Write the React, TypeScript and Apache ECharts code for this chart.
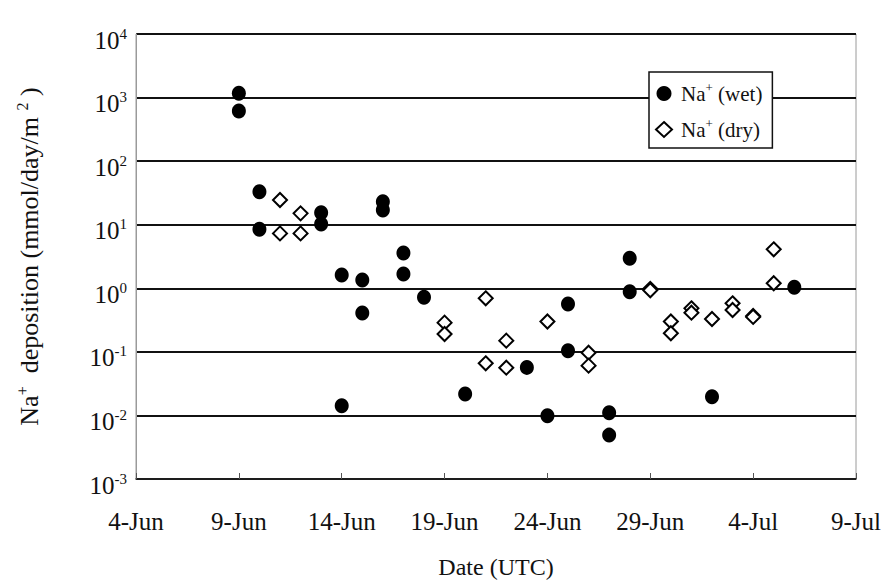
import React, { useEffect, useRef } from "react";
import * as echarts from "echarts";

// Sampling dates and Na+ deposition (mmol/day/m2)
const wetDates = [
  "9-Jun", "9-Jun", "10-Jun", "10-Jun", "13-Jun", "13-Jun", "14-Jun", "14-Jun",
  "15-Jun", "15-Jun", "16-Jun", "16-Jun", "17-Jun", "17-Jun", "18-Jun", "20-Jun",
  "23-Jun", "24-Jun", "25-Jun", "25-Jun", "27-Jun", "27-Jun", "28-Jun", "28-Jun",
  "2-Jul", "6-Jul",
];
const wetValues = [
  1170, 615, 33, 8.5, 15.4, 10.3, 1.62, 0.0142,
  1.35, 0.41, 23, 17, 3.6, 1.68, 0.72, 0.0217,
  0.057, 0.0099, 0.567, 0.104, 0.011, 0.0049, 2.96, 0.885,
  0.0197, 1.04,
];

const dryDates = [
  "11-Jun", "11-Jun", "12-Jun", "12-Jun", "19-Jun", "19-Jun", "21-Jun", "21-Jun",
  "22-Jun", "22-Jun", "24-Jun", "26-Jun", "26-Jun", "29-Jun", "29-Jun", "30-Jun",
  "30-Jun", "1-Jul", "1-Jul", "2-Jul", "3-Jul", "3-Jul", "4-Jul", "4-Jul",
  "5-Jul", "5-Jul",
];
const dryValues = [
  24.5, 7.3, 15.1, 7.3, 0.288, 0.191, 0.695, 0.066,
  0.15, 0.0564, 0.3, 0.097, 0.0607, 0.98, 0.93, 0.3,
  0.196, 0.484, 0.413, 0.329, 0.58, 0.455, 0.366, 0.355,
  4.1, 1.2,
];

const xTickLabels = ["4-Jun", "9-Jun", "14-Jun", "19-Jun", "24-Jun", "29-Jun", "4-Jul", "9-Jul"];

const FONT = "Liberation Serif";

// days counted from 4 June
function dayIndex(label: string): number {
  const [d, m] = label.split("-");
  const day = parseInt(d, 10);
  return (m === "Jul" ? 30 + day : day) - 4;
}

export default function App() {
  const ref = useRef<HTMLDivElement>(null);

  useEffect(() => {
    if (!ref.current) return;
    const chart = echarts.init(ref.current, null, { renderer: "svg" });

    const wetData = wetDates.map((d, i) => [dayIndex(d), wetValues[i]]);
    const dryData = dryDates.map((d, i) => [dayIndex(d), dryValues[i]]);

    chart.setOption({
      animation: false,
      backgroundColor: "#ffffff",
      grid: {
        left: 136,
        right: 30,
        top: 34,
        bottom: 101,
        outerBoundsMode: "none",
        containLabel: false,
        show: true,
        borderColor: "#9a9a9a",
        borderWidth: 1,
      },
      legend: {
        orient: "vertical",
        left: 649,
        top: 72,
        backgroundColor: "#ffffff",
        borderColor: "#111",
        borderWidth: 1.5,
        borderRadius: 0,
        padding: [9, 10, 8, 6],
        itemGap: 13,
        itemWidth: 16,
        itemHeight: 15,
        data: ["Na+ (wet)", "Na+ (dry)"],
        formatter: (name: string) => {
          const rest = name.replace("Na+", "");
          return `{a|Na}{s|+}{a|${rest}}`;
        },
        textStyle: {
          padding: [0, 0, 0, 4],
          rich: {
            a: { fontFamily: FONT, fontSize: 21, color: "#111", lineHeight: 25 },
            s: { fontFamily: FONT, fontSize: 13, color: "#111", verticalAlign: "top", lineHeight: 13 },
          },
        },
      },
      xAxis: {
        type: "value",
        min: 0,
        max: 35,
        interval: 5,
        name: "Date (UTC)",
        nameLocation: "middle",
        nameGap: 76,
        nameTextStyle: { fontFamily: FONT, fontSize: 24, color: "#111" },
        axisLine: { show: true, lineStyle: { color: "#222", width: 1.5 } },
        axisTick: { show: true, inside: true, length: 6, lineStyle: { color: "#555", width: 1 } },
        axisLabel: {
          margin: 30,
          fontFamily: FONT,
          fontSize: 25,
          color: "#111",
          formatter: (v: number) => xTickLabels[Math.round(v / 5)] ?? "",
        },
        splitLine: { show: false },
      },
      yAxis: {
        type: "log",
        logBase: 10,
        min: 0.001,
        max: 10000,
        name: "{a|Na}{s|+}{a|  deposition (mmol/day/m }{s|2}{a| )}",
        nameLocation: "middle",
        nameRotate: 90,
        nameGap: 92,
        nameTextStyle: {
          rich: {
            a: { fontFamily: FONT, fontSize: 26, color: "#111", lineHeight: 30 },
            s: { fontFamily: FONT, fontSize: 16, color: "#111", verticalAlign: "top", lineHeight: 16 },
          },
        },
        axisLine: { show: true, lineStyle: { color: "#9a9a9a", width: 1 } },
        axisTick: { show: false },
        axisLabel: {
          margin: 9,
          padding: [12, 0, 0, 0],
          formatter: (v: number) => {
            const e = Math.round(Math.log10(v));
            return `{b|10}{s|${e}}`;
          },
          rich: {
            b: { fontFamily: FONT, fontSize: 25, color: "#111", lineHeight: 28 },
            s: { fontFamily: FONT, fontSize: 15, color: "#111", verticalAlign: "top", lineHeight: 15 },
          },
        },
        splitLine: { show: true, lineStyle: { color: "#111", width: 1.8 } },
      },
      series: [
        {
          name: "Na+ (wet)",
          type: "scatter",
          symbol: "circle",
          symbolSize: [14, 15],
          data: wetData,
          itemStyle: { color: "#000", opacity: 1 },
          z: 3,
        },
        {
          name: "Na+ (dry)",
          type: "scatter",
          symbol: "diamond",
          symbolSize: 14,
          data: dryData,
          itemStyle: { color: "#fff", borderColor: "#000", borderWidth: 2, opacity: 1 },
          z: 4,
        },
      ],
    });

    return () => chart.dispose();
  }, []);

  return <div ref={ref} style={{ width: 886, height: 580, position: "absolute", left: 0, top: 0 }} />;
}
